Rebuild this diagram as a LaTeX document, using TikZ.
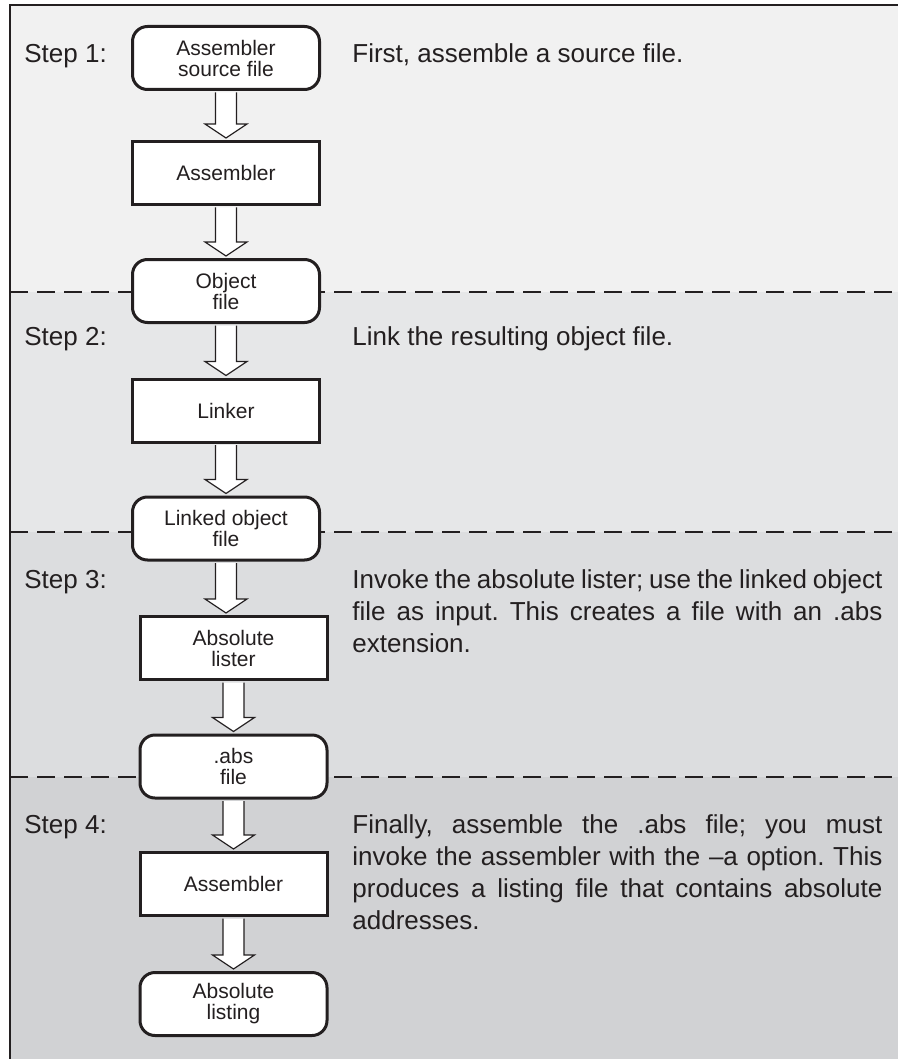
\documentclass[tikz,border=0pt]{standalone}
\usepackage{fontspec}
\setmainfont{Liberation Sans}
\usetikzlibrary{calc}
\frenchspacing

\definecolor{bandA}{HTML}{F1F1F1}
\definecolor{bandB}{HTML}{E6E7E8}
\definecolor{bandC}{HTML}{DCDDDF}
\definecolor{bandD}{HTML}{D1D2D4}
\definecolor{ink}{HTML}{231F20}

\tikzset{
  filebox/.style={draw=ink, line width=1.5pt, fill=white, rounded corners=7.5pt,
    minimum width=93.5pt, minimum height=31.5pt, inner sep=0pt, align=center,
    text=ink, font=\fontsize{10.5}{10.5}\selectfont},
  toolbox/.style={filebox, sharp corners},
  fatarrow/.style={draw=ink, line width=0.6pt, fill=white},
  steplabel/.style={anchor=base west, inner sep=0pt, text=ink,
    font=\fontsize{13}{16}\selectfont},
  stepnote/.style={steplabel, text width=265pt, align=justify},
  divider/.style={ink, line width=1.2pt, dash pattern=on 9pt off 4.5pt}
}

% hollow block arrow from one box down to the next
\newcommand{\flowarrow}[2]{%
  \draw[fatarrow] ($(#1.south)+(-10.5,1.5)$)
    -- ($(#1.south |- #2.north)+(-10.5,-16)$)
    -- ($(#1.south |- #2.north)+(-21,-16)$)
    -- ($(#1.south |- #2.north)+(0,-2)$)
    -- ($(#1.south |- #2.north)+(21,-16)$)
    -- ($(#1.south |- #2.north)+(10.5,-16)$)
    -- ($(#1.south)+(10.5,1.5)$);}

\begin{document}
\begin{tikzpicture}[x=0.5pt, y=-0.5pt]
\useasboundingbox (0,0) rectangle (898,1059);

% shaded bands and frame
\fill[bandA] (10,5) rectangle (898,292);
\fill[bandB] (10,292) rectangle (898,532);
\fill[bandC] (10,532) rectangle (898,777);
\fill[bandD] (10,777) rectangle (898,1059);
\draw[ink, line width=1.4pt] (10,1059) -- (10,5) -- (898,5);
\foreach \y in {292,532,777}
  \draw[divider] (10,\y) -- (898,\y);

% flow
\node[filebox] (src) at (226,58) {Assembler\\source file};
\node[toolbox] (asm) at (226,173) {Assembler};
\node[filebox] (obj) at (226,291) {Object\\file};
\node[toolbox] (lnk) at (226,410.5) {Linker};
\node[filebox] (lobj) at (226,528.5) {Linked object\\file};
\node[toolbox] (lst) at (233.5,648) {Absolute\\lister};
\node[filebox] (absf) at (233.5,766.5) {.abs\\file};
\node[toolbox] (asmb) at (233.5,884) {Assembler};
\node[filebox] (out) at (233.5,1004) {Absolute\\listing};

\flowarrow{src}{asm}
\flowarrow{asm}{obj}
\flowarrow{obj}{lnk}
\flowarrow{lnk}{lobj}
\flowarrow{lobj}{lst}
\flowarrow{lst}{absf}
\flowarrow{absf}{asmb}
\flowarrow{asmb}{out}

% step labels and notes
\node[steplabel] (s1) at (24,63) {Step 1:};
\node[steplabel] (s2) at (24,345) {Step 2:};
\node[steplabel] (s3) at (24,588) {Step 3:};
\node[steplabel] (s4) at (24,833) {Step 4:};

\node[steplabel] (n1) at (352,63) {First, assemble a source file.};
\node[steplabel] (n2) at (352,345) {Link the resulting object file.};
\node[stepnote] (n3) at (352,588) {Invoke the absolute lister; use the linked object\linebreak
  file as input. This creates a file with an .abs\linebreak extension.};
\node[stepnote] (n4) at (352,833) {Finally, assemble the .abs file; you must\linebreak
  invoke the assembler with the –a option. This\linebreak
  produces a listing file that contains absolute\linebreak addresses.};
\end{tikzpicture}
\end{document}
